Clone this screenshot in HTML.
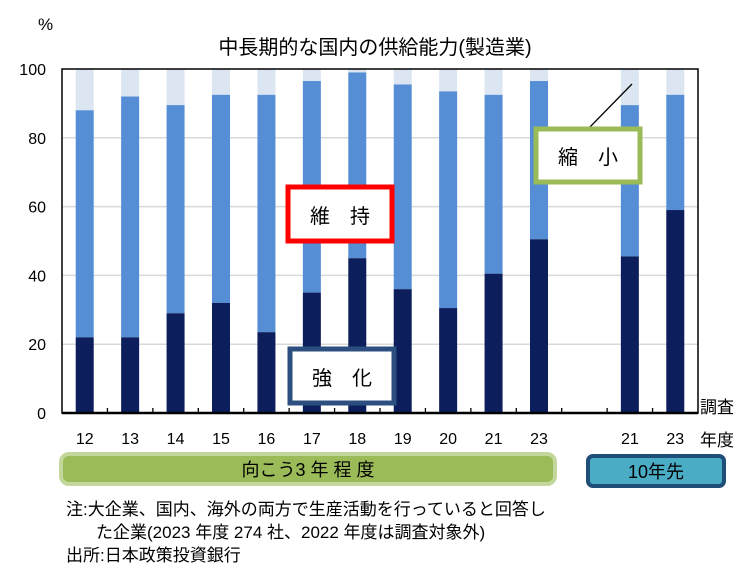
<!DOCTYPE html>
<html><head><meta charset="utf-8"><style>
body{margin:0;background:#fff;width:750px;height:580px;overflow:hidden;font-family:"Liberation Sans","Noto Sans CJK JP",sans-serif}
</style></head><body>
<svg width="750" height="580" style="font-family:'Liberation Sans','Noto Sans CJK JP',sans-serif">
<text x="38" y="30" font-size="17">%</text>
<text x="375" y="54" font-size="20" text-anchor="middle">中長期的な国内の供給能力(製造業)</text>
<g id="grid"></g><g id="bars"></g><g id="axes"></g>
<g><rect x="288" y="187" width="104" height="54" fill="#fff" stroke="#f00" stroke-width="5"/><text x="340" y="223" font-size="20" text-anchor="middle">維　持</text></g>
<g><rect x="290" y="349" width="104" height="54" fill="#fff" stroke="#2d4f7f" stroke-width="5"/><text x="342" y="385" font-size="20" text-anchor="middle">強　化</text></g>
<line x1="588" y1="129" x2="632" y2="84" stroke="#000" stroke-width="1.3"/>
<g><rect x="536" y="129" width="104" height="53" fill="#fff" stroke="#9bbb59" stroke-width="5"/><text x="588" y="164" font-size="20" text-anchor="middle">縮　小</text></g>
<text x="700" y="413" font-size="17">調査</text>
<text x="700" y="446" font-size="17">年度</text>
<g><rect x="61" y="454" width="494" height="30" rx="8" fill="#9bbb59" stroke="#c3d69b" stroke-width="4"/><text x="308" y="476" font-size="18" text-anchor="middle">向こう3 年 程 度</text></g>
<g><rect x="588" y="456" width="136" height="30" rx="5" fill="#4bacc6" stroke="#1f4e79" stroke-width="4"/><text x="656" y="478" font-size="18" text-anchor="middle">10年先</text></g>
<text x="66" y="515" font-size="17">注:大企業、国内、海外の両方で生産活動を行っていると回答し</text>
<text x="96" y="538" font-size="17">た企業(2023 年度 274 社、2022 年度は調査対象外)</text>
<text x="66" y="561" font-size="17">出所:日本政策投資銀行</text>
</svg>
<script>
const categories=["12","13","14","15","16","17","18","19","20","21","23","21","23"];
const strengthen=[22,22,29,32,23.5,35,45,36,30.5,40.5,50.5,45.5,59];
const maintainTop=[88,92,89.5,92.5,92.5,96.5,99,95.5,93.5,92.5,96.5,89.5,92.5];
const slots=[0,1,2,3,4,5,6,7,8,9,10,12,13];
const yTicks=[0,20,40,60,80,100];
const NS="http://www.w3.org/2000/svg";
const L=62,R=698,T=69,B=413;
const y=v=>B-(B-T)*v/100;
const step=(R-L)/14;
const x=i=>L+step*(slots[i]+0.5);
function mk(tag,a,parent){const e=document.createElementNS(NS,tag);for(const k in a)e.setAttribute(k,a[k]);parent.appendChild(e);return e;}
const grid=document.getElementById('grid'),bars=document.getElementById('bars'),axes=document.getElementById('axes');
yTicks.forEach(t=>{
 if(t>0&&t<100){const g=mk('line',{x1:L,x2:R,y1:y(t),y2:y(t),stroke:'#d9d9d9','stroke-width':1.5},grid);
 
 }
 const tx=mk('text',{x:L-16,y:y(t)+6,'font-size':16,'text-anchor':'end'},axes);tx.textContent=t;
 
 
});
categories.forEach((c,i)=>{
 const cx=x(i),w=18;
 const a=mk('rect',{x:cx-w/2,y:y(100),width:w,height:y(maintainTop[i])-y(100),fill:'#dce6f2'},bars);
 
 
 const b=mk('rect',{x:cx-w/2,y:y(maintainTop[i]),width:w,height:y(strengthen[i])-y(maintainTop[i]),fill:'#558ed5'},bars);
 
 
 const s=mk('rect',{x:cx-w/2,y:y(strengthen[i]),width:w,height:B-y(strengthen[i]),fill:'#0c1f5c'},bars);
 
 
 const t=mk('text',{x:cx,y:444,'font-size':16,'text-anchor':'middle'},axes);t.textContent=c;
 
 
});
for(let k=1;k<14;k++){mk('line',{x1:L+step*k,x2:L+step*k,y1:B,y2:B-5,stroke:'#000','stroke-width':1.3},axes);}
const f=mk('path',{d:`M${L},${B}L${L},${T}L${R},${T}L${R},${B}Z`,fill:'none',stroke:'#000','stroke-width':1.5},axes);


mk('line',{x1:L,x2:R,y1:B,y2:B,stroke:'#000','stroke-width':2.5},axes);
</script>
</body></html>
